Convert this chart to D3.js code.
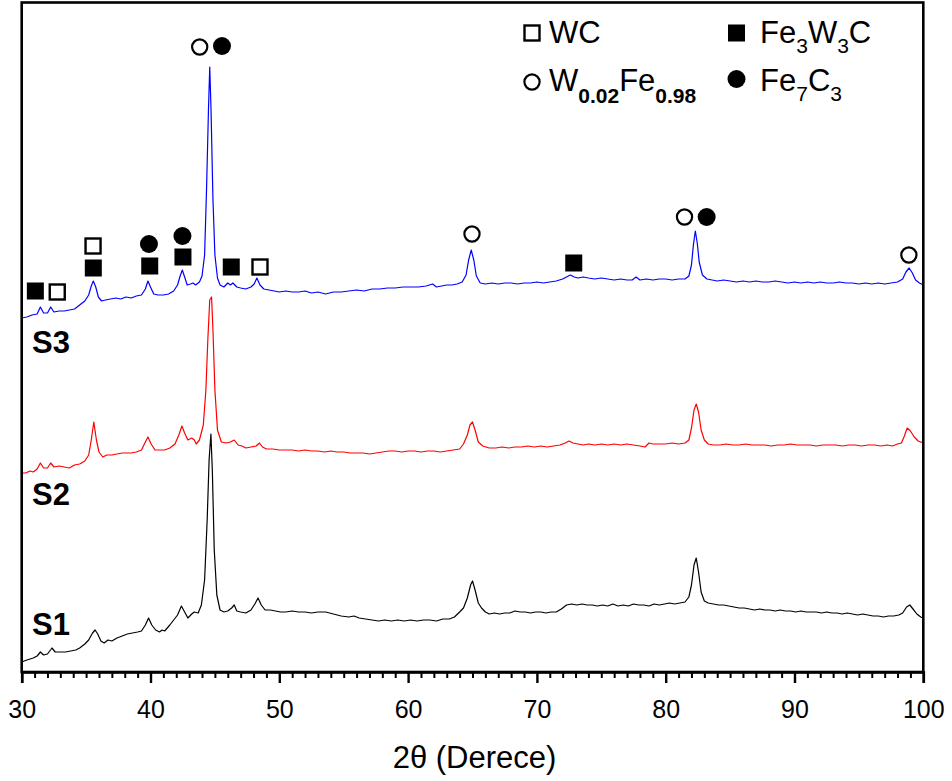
<!DOCTYPE html>
<html>
<head>
<meta charset="utf-8">
<script src="https://cdn.jsdelivr.net/npm/d3@7"></script>
<style>
  html, body { margin: 0; padding: 0; background: #fff; }
  svg { display: block; font-family: Arial, "Liberation Sans", Helvetica, sans-serif; }
</style>
</head>
<body>
<svg id="chart" width="952" height="781"></svg>
<script>
// ---------- DATA (2θ in degrees, intensity in arbitrary units) ----------
const xTicks = [30, 40, 50, 60, 70, 80, 90, 100];
const xLabel = "2θ (Derece)";
const seriesNames = ["S1", "S2", "S3"];
const seriesColors = ["#000000", "#ff0000", "#0000ff"];

const S3 = [
[30.0,354],[30.4,355],[30.8,357],[31.2,358],[31.45,365],[31.7,359],[32.0,359],[32.25,365],[32.5,360],[32.9,361],
[33.3,361],[33.7,362],[34.1,363],[34.5,367],[34.9,371],[35.2,377],[35.4,386],[35.56,391],[35.75,385],[35.95,375],
[36.2,371],[36.5,372],[36.9,373],[37.3,374],[37.7,373],[38.1,375],[38.5,374],[38.9,376],[39.3,377],[39.6,383],
[39.8,391],[40.0,385],[40.25,378],[40.6,377],[41.0,377],[41.4,378],[41.8,381],[42.1,387],[42.3,396],[42.47,402],
[42.65,395],[42.85,387],[43.1,388],[43.3,389],[43.5,387],[43.8,390],[44.0,396],[44.2,417],[44.35,482],[44.5,562],
[44.6,605],[44.7,562],[44.85,472],[45.0,417],[45.2,394],[45.4,387],[45.7,385],[46.0,389],[46.2,387],[46.4,389],
[46.7,385],[47.0,384],[47.4,383],[47.8,385],[48.05,388],[48.26,394],[48.5,387],[48.8,383],[49.2,382],[49.6,381],
[50.0,380],[50.5,381],[51.0,380],[51.5,380],[52.0,381],[52.5,379],[53.0,380],[53.6,378],[54.2,380],[54.8,380],
[55.4,381],[56.0,382],[56.6,381],[57.2,383],[57.8,383],[58.4,384],[59.0,384],[59.6,385],[60.2,385],[60.8,385],
[61.4,386],[61.9,388],[62.2,385],[62.6,386],[63.0,387],[63.4,387],[63.8,388],[64.2,390],[64.5,397],[64.7,412],
[64.9,422],[65.1,412],[65.3,396],[65.6,389],[66.0,388],[66.5,389],[67.0,388],[67.5,389],[68.0,389],[68.5,388],
[69.0,389],[69.5,389],[70.0,390],[70.5,389],[71.0,390],[71.5,391],[72.0,393],[72.3,395],[72.6,397],[72.9,395],
[73.2,394],[73.6,395],[74.0,394],[74.5,393],[75.0,394],[75.5,393],[76.0,392],[76.5,393],[77.0,392],[77.4,392],
[77.7,395],[78.0,392],[78.5,393],[79.0,392],[79.5,393],[80.0,393],[80.5,392],[81.0,393],[81.5,393],[81.8,396],
[82.0,407],[82.15,427],[82.3,441],[82.45,429],[82.6,410],[82.85,397],[83.2,393],[83.6,392],[84.0,391],[84.5,392],
[85.0,391],[85.5,390],[86.0,391],[86.5,390],[87.0,391],[87.5,390],[88.0,390],[88.5,391],[89.0,390],[89.5,389],
[90.0,390],[90.5,389],[91.0,390],[91.5,389],[92.0,390],[92.5,389],[93.0,389],[93.5,390],[94.0,389],[94.5,389],
[95.0,388],[95.5,389],[96.0,388],[96.5,389],[97.0,388],[97.5,389],[98.0,390],[98.4,393],[98.65,400],[98.9,404],
[99.15,399],[99.4,392],[99.7,389],[100.0,387]
];

const S2 = [
[30.0,199],[30.3,199],[30.65,201],[30.9,200],[31.2,203],[31.45,209],[31.7,204],[32.0,204],[32.25,209],[32.5,205],
[32.9,206],[33.3,205],[33.7,204],[34.1,207],[34.5,208],[34.9,211],[35.2,217],[35.4,232],[35.6,250],[35.8,232],
[36.0,220],[36.3,215],[36.6,217],[37.0,217],[37.4,218],[37.8,219],[38.1,219],[38.5,219],[38.9,220],[39.3,222],
[39.6,230],[39.8,235],[40.05,228],[40.35,222],[40.7,222],[41.1,222],[41.5,224],[41.9,228],[42.2,237],[42.44,246],
[42.65,239],[42.9,232],[43.2,234],[43.4,232],[43.55,228],[43.8,232],[44.1,247],[44.3,282],[44.45,332],[44.6,372],
[44.74,375],[44.85,342],[45.0,282],[45.2,242],[45.5,230],[45.9,229],[46.2,230],[46.5,232],[46.8,227],[47.1,226],
[47.4,224],[47.8,225],[48.2,226],[48.46,229],[48.7,225],[49.0,223],[49.5,223],[50.0,222],[50.5,222],[51.0,222],
[51.5,221],[52.0,222],[52.5,221],[53.0,221],[53.5,220],[54.0,221],[54.5,220],[55.0,220],[55.5,219],[56.0,219],
[56.5,219],[57.0,218],[57.5,219],[58.0,220],[58.5,221],[59.0,221],[59.5,220],[60.0,221],[60.5,221],[61.0,220],
[61.5,221],[62.0,221],[62.5,220],[63.0,221],[63.5,222],[64.0,223],[64.3,228],[64.6,237],[64.8,247],[65.0,250],
[65.2,242],[65.45,230],[65.8,226],[66.3,224],[66.8,224],[67.3,225],[67.8,224],[68.3,225],[68.8,225],[69.3,226],
[69.8,225],[70.3,226],[70.8,225],[71.3,226],[71.8,227],[72.2,229],[72.5,231],[72.8,229],[73.2,228],[73.6,227],
[74.0,228],[74.5,227],[75.0,228],[75.5,227],[76.0,228],[76.5,227],[77.0,228],[77.5,227],[78.0,226],[78.4,225],
[78.7,229],[79.0,228],[79.5,228],[80.0,228],[80.5,229],[81.0,228],[81.5,229],[81.8,232],[82.0,244],[82.2,262],
[82.37,268],[82.55,260],[82.75,242],[83.0,232],[83.3,228],[83.7,227],[84.2,227],[84.7,228],[85.2,227],[85.7,227],
[86.2,228],[86.7,227],[87.2,227],[87.7,227],[88.2,226],[88.7,227],[89.2,227],[89.7,228],[90.2,227],[90.7,227],
[91.2,227],[91.7,226],[92.2,227],[92.7,227],[93.2,227],[93.7,226],[94.2,227],[94.7,227],[95.2,226],[95.7,227],
[96.2,227],[96.7,226],[97.2,227],[97.6,226],[98.0,228],[98.3,229],[98.5,235],[98.75,244],[99.0,241],[99.3,235],
[99.6,231],[100.0,229]
];

const S1 = [
[30.0,10],[30.4,12],[30.9,14],[31.2,16],[31.45,20],[31.7,17],[32.0,18],[32.35,24],[32.6,20],[33.0,20],
[33.4,20],[33.8,21],[34.2,22],[34.5,24],[34.9,28],[35.2,32],[35.5,39],[35.7,42],[35.9,38],[36.15,31],
[36.4,29],[36.7,32],[37.0,31],[37.4,34],[37.8,36],[38.2,38],[38.6,39],[39.0,40],[39.3,41],[39.6,47],
[39.85,54],[40.1,47],[40.4,42],[40.7,40],[40.9,42],[41.1,41],[41.5,47],[41.8,52],[42.1,57],[42.4,66],
[42.65,60],[42.9,54],[43.2,58],[43.4,60],[43.7,59],[43.95,67],[44.2,92],[44.4,152],[44.55,212],[44.69,238],
[44.8,202],[44.95,122],[45.15,77],[45.4,62],[45.7,60],[46.0,61],[46.3,64],[46.5,67],[46.7,61],[47.0,60],
[47.4,59],[47.8,62],[48.1,68],[48.35,74],[48.6,67],[48.9,62],[49.3,62],[49.7,61],[50.1,60],[50.5,60],
[51.0,61],[51.5,60],[52.0,60],[52.5,59],[53.0,60],[53.6,60],[54.2,58],[54.8,56],[55.4,55],[55.8,56],
[56.2,54],[56.7,53],[57.2,52],[57.7,51],[58.2,52],[58.7,51],[59.2,52],[59.7,51],[60.2,52],[60.7,51],
[61.2,52],[61.7,52],[62.2,51],[62.7,53],[63.2,53],[63.6,55],[64.0,60],[64.3,64],[64.6,74],[64.85,87],
[65.0,91],[65.2,82],[65.45,69],[65.7,64],[66.0,60],[66.3,58],[66.7,59],[67.1,58],[67.5,59],[67.9,59],
[68.3,61],[68.7,60],[69.1,60],[69.5,59],[69.9,60],[70.3,60],[70.7,59],[71.1,60],[71.5,60],[71.9,63],
[72.3,67],[72.7,68],[73.1,67],[73.5,68],[73.9,67],[74.3,67],[74.7,66],[75.1,67],[75.5,66],[75.9,68],
[76.3,66],[76.7,67],[77.1,66],[77.5,68],[77.9,67],[78.3,67],[78.7,66],[79.1,68],[79.5,67],[79.9,68],
[80.3,69],[80.7,68],[81.1,69],[81.5,70],[81.8,75],[82.0,87],[82.2,107],[82.37,114],[82.55,100],[82.75,80],
[83.0,71],[83.3,69],[83.7,68],[84.1,67],[84.5,67],[84.9,66],[85.3,65],[85.7,64],[86.1,64],[86.5,63],
[86.9,62],[87.3,63],[87.7,62],[88.1,62],[88.5,61],[88.9,62],[89.3,61],[89.7,61],[90.1,60],[90.5,61],
[90.9,60],[91.3,60],[91.7,60],[92.1,59],[92.5,60],[92.9,59],[93.3,59],[93.7,58],[94.1,59],[94.5,58],
[94.9,57],[95.3,58],[95.7,57],[96.1,56],[96.5,56],[96.9,55],[97.3,56],[97.7,56],[98.1,57],[98.4,59],
[98.7,65],[98.95,67],[99.2,63],[99.5,58],[99.8,55],[100.0,54]
];

// Phase identification markers: [2θ, intensity]
const markWC        = [[32.76,380],[35.54,426],[48.50,405]];
const markFe3W3C    = [[31.06,381],[35.56,404],[39.94,406],[42.52,415],[46.27,405],[72.86,409]];
const markWFe       = [[43.82,625],[64.96,438],[81.46,455],[98.88,417]];
const markFe7C3     = [[39.88,428],[42.48,436],[45.55,626],[83.18,455]];

// Sample labels: [name, 2θ, intensity]
const sampleLabels = [["S3",30.8,319],["S2",30.8,167],["S1",30.8,37]];

// Legend entries (text split into normal / subscript pieces)
const legendItems = [
  {shape:"openSquare",  parts:[["WC",0]]},
  {shape:"filledSquare",parts:[["Fe",0],["3",1],["W",0],["3",1],["C",0]]},
  {shape:"openCircle",  parts:[["W",0],["0.02",2],["Fe",0],["0.98",2]]},
  {shape:"filledCircle",parts:[["Fe",0],["7",1],["C",0],["3",1]]}
];

// ---------- LAYOUT ----------
const svg = d3.select("#chart");
const L = 21.7, R = 923.3, T = 2.5, B = 672;

const x = d3.scaleLinear().domain([30, 100]).range([L, R]);
const y = d3.scaleLinear().domain([0, 669.5]).range([B, T]);

// traces
const line = d3.line().x(d => x(d[0])).y(d => y(d[1]));
[S1, S2, S3].forEach((s, i) => {
  svg.append("path").datum(s)
    .attr("d", line)
    .attr("fill", "none")
    .attr("stroke", seriesColors[i])
    .attr("stroke-width", 1.2)
    .attr("stroke-linejoin", "round");
});

// markers
function drawShape(g, shape, cx, cy) {
  if (shape === "openSquare") {
    g.append("rect").attr("x", cx - 7.5).attr("y", cy - 7.5).attr("width", 15).attr("height", 15)
      .attr("fill", "#fff").attr("stroke", "#000").attr("stroke-width", 2.4);
  } else if (shape === "filledSquare") {
    g.append("rect").attr("x", cx - 8.5).attr("y", cy - 8.5).attr("width", 17).attr("height", 17)
      .attr("fill", "#000");
  } else if (shape === "openCircle") {
    g.append("circle").attr("cx", cx).attr("cy", cy).attr("r", 7.6)
      .attr("fill", "#fff").attr("stroke", "#000").attr("stroke-width", 2.2);
  } else {
    g.append("circle").attr("cx", cx).attr("cy", cy).attr("r", 9).attr("fill", "#000");
  }
}
const markG = svg.append("g");
[[markWC,"openSquare"],[markFe3W3C,"filledSquare"],[markWFe,"openCircle"],[markFe7C3,"filledCircle"]]
  .forEach(([arr, shape]) => arr.forEach(d => drawShape(markG, shape, x(d[0]), y(d[1]))));

// sample labels
svg.append("g").selectAll("text").data(sampleLabels).join("text")
  .attr("x", d => x(d[1])).attr("y", d => y(d[2]))
  .attr("font-size", 31).attr("font-weight", "bold").attr("fill", "#000")
  .text(d => d[0]);

// frame
svg.append("rect").attr("x", L).attr("y", T).attr("width", R - L).attr("height", B - T)
  .attr("fill", "none").attr("stroke", "#000").attr("stroke-width", 2.6);

// x axis: minor ticks
const minorTicks = d3.range(30, 101, 1).filter(v => v % 10 !== 0);
svg.append("g").attr("transform", `translate(0,${B})`)
  .call(d3.axisBottom(x).tickValues(minorTicks).tickSize(6).tickFormat(""))
  .call(g => g.select(".domain").remove())
  .call(g => g.selectAll("line").attr("stroke-width", 2));

// x axis: major ticks
const ax = svg.append("g").attr("transform", `translate(0,${B})`)
  .call(d3.axisBottom(x).tickValues(xTicks).tickSize(11).tickFormat(d3.format("d")));
ax.select(".domain").attr("stroke-width", 2.6);
ax.selectAll("line").attr("stroke-width", 2.4);
ax.selectAll("text").attr("y", 46).attr("dy", 0)
  .attr("font-size", 25).attr("font-family", "Arial, 'Liberation Sans', sans-serif").attr("fill", "#000");

// x axis title
svg.append("text").attr("x", (L + R) / 2 + 2).attr("y", 768)
  .attr("text-anchor", "middle").attr("font-size", 31).attr("fill", "#000")
  .text(xLabel);

// legend
const legPos = [
  {sx: 532, sy: 33, tx: 549, ty: 43},
  {sx: 736.5, sy: 33, tx: 760, ty: 43},
  {sx: 532, sy: 82, tx: 549, ty: 91},
  {sx: 736.5, sy: 79, tx: 760, ty: 91}
];
const legG = svg.append("g");
legendItems.forEach((item, i) => {
  const p = legPos[i];
  drawShape(legG, item.shape, p.sx, p.sy);
  const t = legG.append("text").attr("x", p.tx).attr("y", p.ty).attr("font-size", 31).attr("fill", "#000");
  let shifted = 0;
  item.parts.forEach(([s, kind]) => {
    const target = kind ? (kind === 2 ? 12 : 10) : 0;
    const ts = t.append("tspan").text(s).attr("dy", target - shifted);
    if (kind) ts.attr("font-size", 21).attr("font-weight", kind === 2 ? "bold" : "normal");
    shifted = target;
  });
});
</script>
</body>
</html>
